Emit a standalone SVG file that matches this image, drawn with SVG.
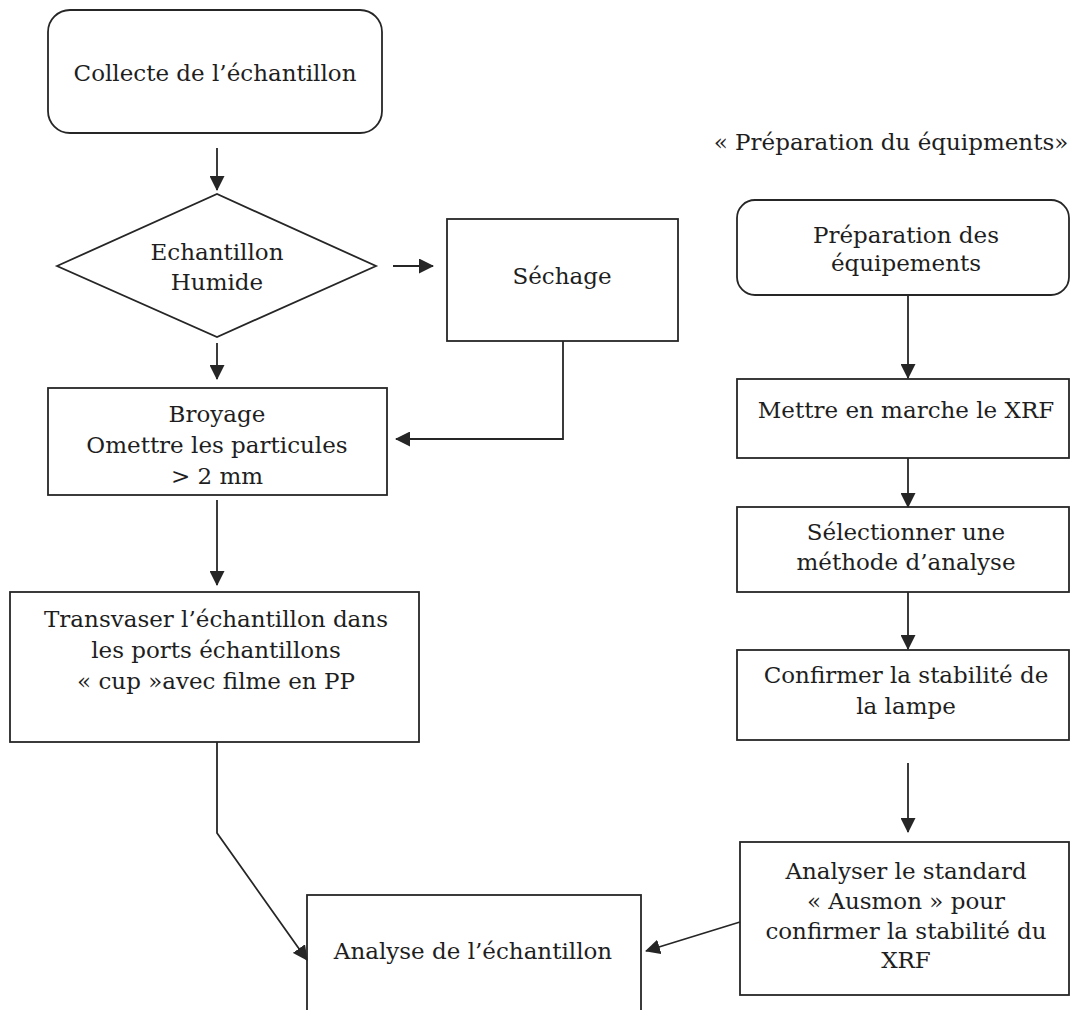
<svg xmlns="http://www.w3.org/2000/svg" width="1071" height="1010" viewBox="0 0 1071 1010">
<defs>
<style>
.box{fill:#fff;stroke:#262626;stroke-width:1.8}
.t{font-family:"DejaVu Serif","Liberation Serif",serif;font-size:23px;fill:#1e1e1e;text-anchor:middle}
.c{fill:none;stroke:#262626;stroke-width:1.8}
</style>
<marker id="ah" viewBox="0 0 15 15" refX="14" refY="7.5" markerWidth="15" markerHeight="15" markerUnits="userSpaceOnUse" orient="auto">
<path d="M0,0 L15,7.5 L0,15 Z" fill="#262626"/>
</marker>
</defs>
<rect width="1071" height="1010" fill="#fff"/>

<g id="collecte">
<rect class="box" x="48" y="10" width="334" height="123" rx="22"/>
<text class="t" x="215" y="81">Collecte de l’échantillon</text>
</g>
<g id="humide">
<polygon class="box" points="57,266 217,194 376,266 217,337"/>
<text class="t" x="217" y="260">Echantillon</text>
<text class="t" x="217" y="290">Humide</text>
</g>
<g id="sechage">
<rect class="box" x="447" y="219" width="231" height="122"/>
<text class="t" x="562" y="284">Séchage</text>
</g>
<g id="broyage">
<rect class="box" x="48" y="388" width="339" height="107"/>
<text class="t" x="217" y="422">Broyage</text>
<text class="t" x="217" y="453">Omettre les particules</text>
<text class="t" x="217" y="484">&gt; 2 mm</text>
</g>
<g id="transvaser">
<rect class="box" x="10" y="592" width="409" height="150"/>
<text class="t" x="216" y="627">Transvaser l’échantillon dans</text>
<text class="t" x="216" y="658">les ports échantillons</text>
<text class="t" x="216" y="689">« cup »avec filme en PP</text>
</g>
<g id="analyse">
<rect class="box" x="307" y="895" width="334" height="125"/>
<text class="t" x="473" y="959">Analyse de l’échantillon</text>
</g>
<g id="titre">
<text class="t" x="891" y="150">« Préparation du équipments»</text>
</g>
<g id="preparation">
<rect class="box" x="737" y="200" width="332" height="95" rx="18"/>
<text class="t" x="906" y="243">Préparation des</text>
<text class="t" x="906" y="271">équipements</text>
</g>
<g id="mettre">
<rect class="box" x="737" y="379" width="332" height="79"/>
<text class="t" x="906" y="418">Mettre en marche le XRF</text>
</g>
<g id="selectionner">
<rect class="box" x="737" y="507" width="332" height="85"/>
<text class="t" x="906" y="540">Sélectionner une</text>
<text class="t" x="906" y="570">méthode d’analyse</text>
</g>
<g id="confirmer">
<rect class="box" x="737" y="650" width="332" height="90"/>
<text class="t" x="906" y="683">Confirmer la stabilité de</text>
<text class="t" x="906" y="714">la lampe</text>
</g>
<g id="analyser">
<rect class="box" x="740" y="842" width="329" height="153"/>
<text class="t" x="906" y="879">Analyser le standard</text>
<text class="t" x="906" y="909">« Ausmon » pour</text>
<text class="t" x="906" y="939">confirmer la stabilité du</text>
<text class="t" x="906" y="968">XRF</text>
</g>

<g id="connectors">
<line class="c" x1="217" y1="148" x2="217" y2="190" marker-end="url(#ah)"/>
<line class="c" x1="393" y1="266" x2="433" y2="266" marker-end="url(#ah)"/>
<line class="c" x1="217" y1="343" x2="217" y2="379" marker-end="url(#ah)"/>
<polyline class="c" points="563,341 563,439 396,439" marker-end="url(#ah)"/>
<line class="c" x1="217" y1="500" x2="217" y2="585" marker-end="url(#ah)"/>
<polyline class="c" points="217,742 217,833 307,960" marker-end="url(#ah)"/>
<line class="c" x1="908" y1="295" x2="908" y2="378" marker-end="url(#ah)"/>
<line class="c" x1="908" y1="458" x2="908" y2="507" marker-end="url(#ah)"/>
<line class="c" x1="908" y1="592" x2="908" y2="649" marker-end="url(#ah)"/>
<line class="c" x1="908" y1="763" x2="908" y2="832" marker-end="url(#ah)"/>
<line class="c" x1="740" y1="922" x2="646" y2="951" marker-end="url(#ah)"/>
</g>
</svg>
